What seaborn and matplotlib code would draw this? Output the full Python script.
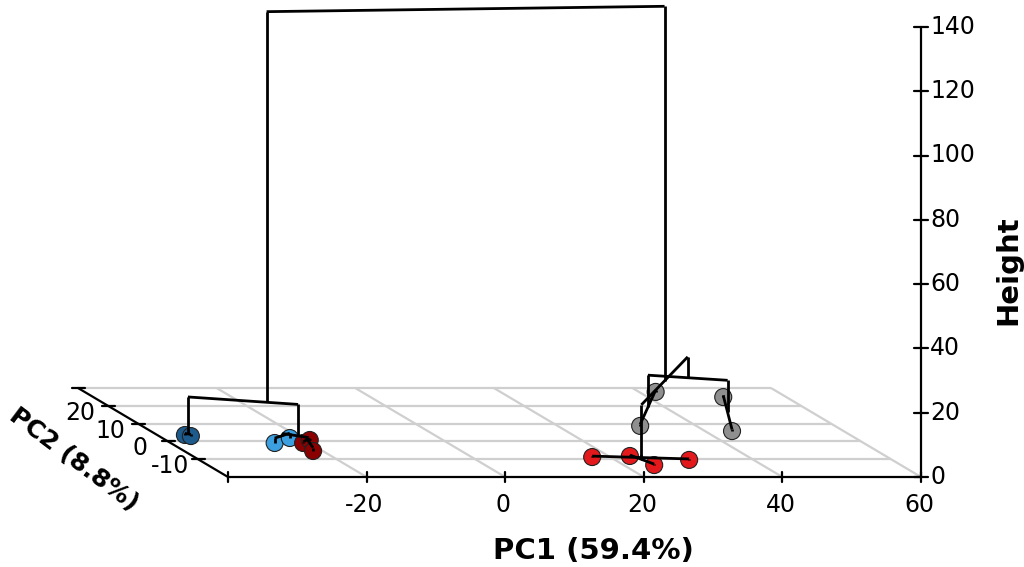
import numpy as np
import pandas as pd
import matplotlib
matplotlib.use("Agg")
import matplotlib.pyplot as plt
import seaborn as sns

# ---- individuals on the first two principal components -------------------
pc1 = [-36.0, -35.4, -25.0, -21.6, -20.9, -19.2, -21.4,
       17.4, 23.1, 24.4, 30.7, 42.4, 50.9, 31.9, 43.9]
pc2 = [3.6, 3.0, -0.9, 1.9, -0.9, 0.8, -5.4,
       -8.8, -8.2, -13.3, -10.4, 27.8, 24.9, 8.7, 5.8]
cluster = ["A", "A", "B", "B", "C", "C", "C",
           "D", "D", "D", "D", "E", "E", "E", "E"]
cluster_colors = {"A": "#1d5b8c", "B": "#3b9fe0", "C": "#8b0000",
                  "D": "#e3191c", "E": "#8f8f8f"}

# ---- hierarchical tree (scipy-like: children ids, merge height) ----------
merge_left = [0, 2, 4, 17, 16, 15, 7, 8, 21, 11, 12, 24, 23, 20]
merge_right = [1, 3, 5, 6, 18, 19, 10, 9, 22, 13, 14, 25, 26, 27]
merge_height = [0.5, 1.5, 0.4, 1.0, 2.2, 12.0, 0.3, 0.3, 1.0,
                0.5, 0.5, 10.5, 17.0, 133.5]

# ---- axes ranges and ticks ----------------------------------------------
x_lim = (-40, 60)
y_lim = (-20, 30)
z_lim = (0, 140)
x_ticks = [-40, -20, 0, 20, 40, 60]
x_ticklabels = ["", "-20", "0", "20", "40", "60"]
y_ticks = [-10, 0, 10, 20, 30]
y_ticklabels = ["-10", "0", "10", "20", ""]
z_ticks = [0, 20, 40, 60, 80, 100, 120, 140]

# oblique projection of the 3D box onto the page (pixel units)
ORIGIN = (228.0, 477.0)
X_SCALE = 6.93
DEPTH = (-3.0, -1.78)
Z_SCALE = 3.215


def project(x, y, z):
    x = np.asarray(x, float)
    y = np.asarray(y, float)
    z = np.asarray(z, float)
    px = ORIGIN[0] + X_SCALE * (x - x_lim[0]) + DEPTH[0] * (y - y_lim[0])
    py = ORIGIN[1] + DEPTH[1] * (y - y_lim[0]) - Z_SCALE * (z - z_lim[0])
    return px, py


sns.set_theme(style="white")
plt.rcParams["font.family"] = ["DejaVu Sans"]
plt.rcParams["text.color"] = "black"

fig = plt.figure(figsize=(10.24, 5.67), dpi=100)
ax = fig.add_axes([0, 0, 1, 1])
ax.set_xlim(0, 1024)
ax.set_ylim(567, 0)
ax.axis("off")

grid_kw = dict(color="#cfcfcf", lw=1.6, zorder=1, solid_capstyle="butt")
axis_kw = dict(color="black", lw=1.6, zorder=3)

# floor grid
for yv in y_ticks:
    px, py = project(x_lim, [yv, yv], [0, 0])
    ax.plot(px, py, **grid_kw)
for xv in x_ticks[1:]:
    px, py = project([xv, xv], y_lim, [0, 0])
    ax.plot(px, py, **grid_kw)

# PC1 axis (front edge)
px, py = project(x_lim, [y_lim[0]] * 2, [0, 0])
ax.plot(px, py, **axis_kw)
for xv, lab in zip(x_ticks, x_ticklabels):
    tx, ty = project(xv, y_lim[0], 0)
    ax.plot([tx, tx], [ty - 5, ty + 5], **axis_kw)
    if lab:
        ax.text(tx - 2, ty + 28, lab, fontsize=17, ha="center", va="center")

# PC2 axis (left edge)
px, py = project([x_lim[0]] * 2, y_lim, [0, 0])
ax.plot(px, py, **axis_kw)
for yv, lab in zip(y_ticks, y_ticklabels):
    tx, ty = project(x_lim[0], yv, 0)
    ax.plot([tx - 6, tx + 7], [ty, ty], **axis_kw)
    if lab:
        ax.text(tx - 28, ty + 7, lab, fontsize=17, ha="center", va="center")

# Height axis (right front corner)
px, py = project([x_lim[1]] * 2, [y_lim[0]] * 2, z_lim)
ax.plot(px, py, **axis_kw)
for zv in z_ticks:
    tx, ty = project(x_lim[1], y_lim[0], zv)
    ax.plot([tx - 7, tx + 7], [ty, ty], **axis_kw)
    ax.text(tx + 9, ty, str(zv), fontsize=17, ha="left", va="center")

# axis titles
ax.text(593, 551, "PC1 (59.4%)", fontsize=21, fontweight="bold",
        ha="center", va="center")
ax.text(1008, 270, "Height", fontsize=21, fontweight="bold",
        ha="center", va="center", rotation=90)
ax.text(74, 460, "PC2 (8.8%)", fontsize=18, fontweight="bold",
        ha="center", va="center", rotation=-37, rotation_mode="anchor")

# leaves
df = pd.DataFrame({"pc1": pc1, "pc2": pc2, "cluster": cluster})
df["px"], df["py"] = project(df["pc1"], df["pc2"], 0)
sns.scatterplot(data=df, x="px", y="py", hue="cluster",
                palette=cluster_colors, s=150, edgecolor="#222222",
                linewidth=0.8, legend=False, ax=ax, zorder=4)

# tree: node positions are the centroids of their leaves
n_leaves = len(pc1)
pos = {i: (pc1[i], pc2[i]) for i in range(n_leaves)}
size = {i: 1 for i in range(n_leaves)}
height = {i: 0.0 for i in range(n_leaves)}
tree_kw = dict(color="black", lw=2.0, zorder=5, solid_capstyle="butt")
for k, (a, b, h) in enumerate(zip(merge_left, merge_right, merge_height)):
    node = n_leaves + k
    for c in (a, b):
        vx, vy = project([pos[c][0]] * 2, [pos[c][1]] * 2, [height[c], h])
        ax.plot(vx, vy, **tree_kw)
    cx, cy = project([pos[a][0], pos[b][0]], [pos[a][1], pos[b][1]], [h, h])
    ax.plot(cx, cy, **tree_kw)
    na, nb = size[a], size[b]
    pos[node] = ((na * pos[a][0] + nb * pos[b][0]) / (na + nb),
                 (na * pos[a][1] + nb * pos[b][1]) / (na + nb))
    size[node] = na + nb
    height[node] = h

fig.savefig("out.png", dpi=100)
